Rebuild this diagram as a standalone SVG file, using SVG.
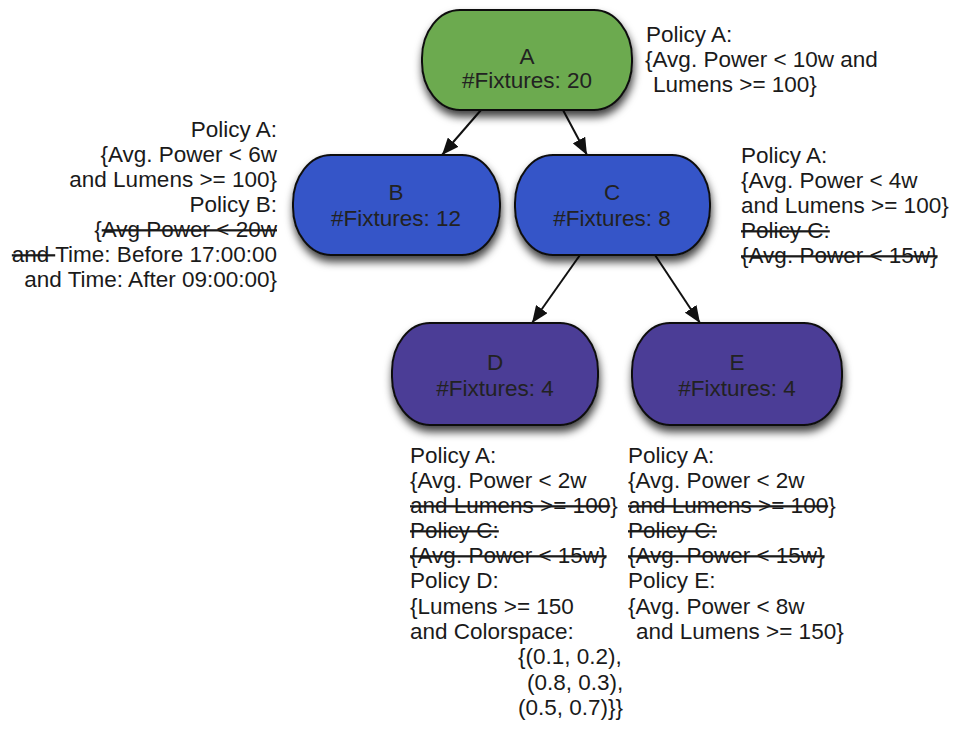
<svg xmlns="http://www.w3.org/2000/svg" width="954" height="729" viewBox="0 0 954 729">
<defs>
<style>
text{font-family:"Liberation Sans",Arial,sans-serif;font-size:22.5px;fill:#1a1a1a}
.nt{text-anchor:middle;fill:#222}
.r{text-anchor:end}
.s{text-decoration:line-through}
.node{stroke:#111;stroke-width:2}
.edge{stroke:#111;stroke-width:2;fill:none;marker-end:url(#ah)}
</style>
<filter id="sh" x="-20%" y="-20%" width="140%" height="150%">
<feDropShadow dx="1" dy="6" stdDeviation="4" flood-color="#000" flood-opacity="0.75"/>
</filter>
<marker id="ah" markerUnits="userSpaceOnUse" markerWidth="18" markerHeight="14" refX="17" refY="7" orient="auto">
<path d="M0,0 L17,7 L0,14 z" fill="#111"/>
</marker>
</defs>
<rect width="954" height="729" fill="#fff"/>

<g id="connectors">
<line class="edge" x1="481" y1="110" x2="442" y2="155"/>
<line class="edge" x1="563" y1="110" x2="587" y2="155"/>
<line class="edge" x1="580" y1="255" x2="532" y2="323"/>
<line class="edge" x1="655" y1="255" x2="700" y2="323"/>
</g>

<g id="nodeA">
<rect class="node" x="422" y="10" width="210" height="100" rx="38" ry="48" fill="#6caa50" filter="url(#sh)"/>
<text class="nt" x="527" y="64">A</text>
<text class="nt" x="527" y="88">#Fixtures: 20</text>
</g>
<g id="nodeB">
<rect class="node" x="293" y="155" width="207" height="100" rx="38" ry="48" fill="#3454c8" filter="url(#sh)"/>
<text class="nt" x="396" y="200">B</text>
<text class="nt" x="396" y="226">#Fixtures: 12</text>
</g>
<g id="nodeC">
<rect class="node" x="515" y="155" width="195" height="100" rx="38" ry="48" fill="#3454c8" filter="url(#sh)"/>
<text class="nt" x="612" y="200">C</text>
<text class="nt" x="612" y="226">#Fixtures: 8</text>
</g>
<g id="nodeD">
<rect class="node" x="392" y="323" width="206" height="102" rx="38" ry="48" fill="#4b3c96" filter="url(#sh)"/>
<text class="nt" x="495" y="370">D</text>
<text class="nt" x="495" y="396">#Fixtures: 4</text>
</g>
<g id="nodeE">
<rect class="node" x="632" y="323" width="210" height="102" rx="38" ry="48" fill="#4b3c96" filter="url(#sh)"/>
<text class="nt" x="737" y="370">E</text>
<text class="nt" x="737" y="396">#Fixtures: 4</text>
</g>

<g id="labelA">
<text x="646" y="42">Policy A:</text>
<text x="645" y="67">{Avg. Power &lt; 10w and</text>
<text x="653" y="92">Lumens &gt;= 100}</text>
</g>

<g id="labelB">
<text class="r" x="277" y="137">Policy A:</text>
<text class="r" x="277" y="162">{Avg. Power &lt; 6w</text>
<text class="r" x="277" y="187">and Lumens &gt;= 100}</text>
<text class="r" x="277" y="212">Policy B:</text>
<text class="r" x="277" y="237">{<tspan class="s">Avg Power &lt; 20w</tspan></text>
<text class="r" x="277" y="262"><tspan class="s">and </tspan>Time: Before 17:00:00</text>
<text class="r" x="277" y="287">and Time: After 09:00:00}</text>
</g>

<g id="labelC">
<text x="741" y="163">Policy A:</text>
<text x="741" y="188">{Avg. Power &lt; 4w</text>
<text x="741" y="213">and Lumens &gt;= 100}</text>
<text x="741" y="238" class="s">Policy C:</text>
<text x="741" y="263" class="s">{Avg. Power &lt; 15w}</text>
</g>

<g id="labelD">
<text x="410" y="463">Policy A:</text>
<text x="410" y="488">{Avg. Power &lt; 2w</text>
<text x="410" y="513"><tspan class="s">and Lumens &gt;= 100</tspan>}</text>
<text x="410" y="538" class="s">Policy C:</text>
<text x="410" y="563" class="s">{Avg. Power &lt; 15w}</text>
<text x="410" y="588">Policy D:</text>
<text x="410" y="614">{Lumens &gt;= 150</text>
<text x="410" y="639">and Colorspace:</text>
<text x="518" y="664">{(0.1, 0.2),</text>
<text x="527" y="690">(0.8, 0.3),</text>
<text x="518" y="715">(0.5, 0.7)}}</text>
</g>

<g id="labelE">
<text x="628" y="463">Policy A:</text>
<text x="628" y="488">{Avg. Power &lt; 2w</text>
<text x="628" y="513"><tspan class="s">and Lumens &gt;= 100</tspan>}</text>
<text x="628" y="538" class="s">Policy C:</text>
<text x="628" y="563" class="s">{Avg. Power &lt; 15w}</text>
<text x="628" y="588">Policy E:</text>
<text x="628" y="614">{Avg. Power &lt; 8w</text>
<text x="636" y="639">and Lumens &gt;= 150}</text>
</g>
</svg>
